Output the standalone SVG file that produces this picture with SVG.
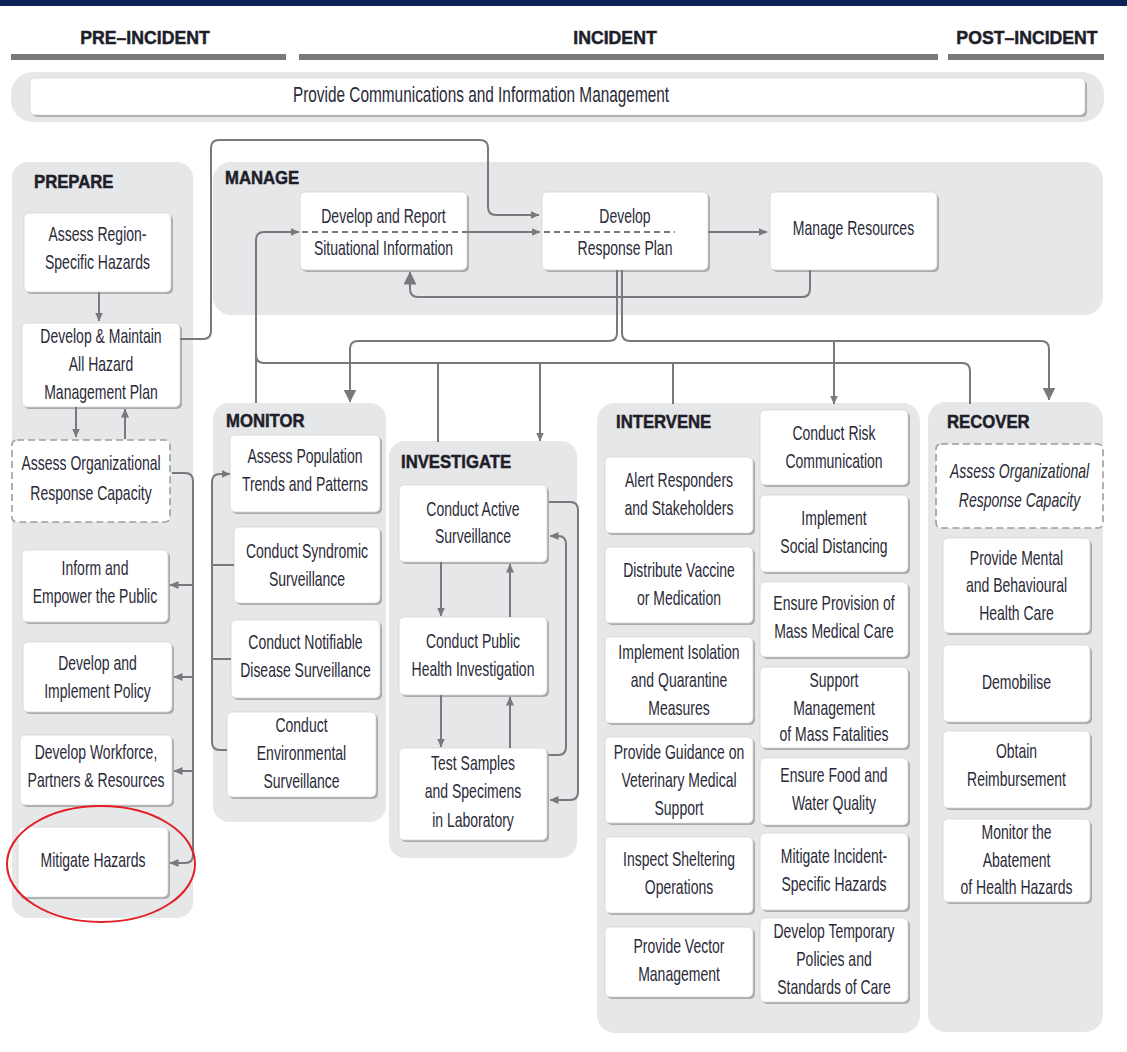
<svg xmlns="http://www.w3.org/2000/svg" width="1127" height="1052" viewBox="0 0 1127 1052">
<style>
.panel{fill:#e6e7e8}
.sh{fill:#a9aaac}
.box{fill:#ffffff;stroke:#d3d4d5;stroke-width:0.8}
.dbox{fill:#ffffff;stroke:#9c9d9f;stroke-width:1.6;stroke-dasharray:7 4}
.t{font-family:"Liberation Sans",Arial,sans-serif;font-size:20px;fill:#2a2a38;text-anchor:middle}
.it{font-style:italic}
.ttl{font-family:"Liberation Sans",Arial,sans-serif;font-size:19px;font-weight:900;fill:#1e1e2a;stroke:#1e1e2a;stroke-width:0.5}
.hdr{font-family:"Liberation Sans",Arial,sans-serif;font-size:19px;font-weight:900;fill:#1e1e2a;stroke:#1e1e2a;stroke-width:0.5;text-anchor:middle}
.bar{fill:#78797c}
.c{fill:none;stroke:#78797c;stroke-width:2}
.cd{fill:none;stroke:#78797c;stroke-width:2;stroke-dasharray:6 4}
.a{marker-end:url(#arr)}
.al{marker-end:url(#arrL)}
</style>
<defs>
<marker id="arr" markerWidth="9" markerHeight="8" refX="8.5" refY="4" orient="auto" markerUnits="userSpaceOnUse">
<path d="M0,0 L9,4 L0,8 z" fill="#78797c"/>
</marker>
<marker id="arrL" markerWidth="13" markerHeight="13" refX="12.5" refY="6.5" orient="auto" markerUnits="userSpaceOnUse">
<path d="M0,0 L13,6.5 L0,13 z" fill="#78797c"/>
</marker>
</defs>

<rect x="0" y="0" width="1127" height="6" fill="#0e2257"/>

<g id="phases">
<rect class="bar" x="11" y="54" width="275" height="6"/>
<rect class="bar" x="299" y="54" width="639" height="6"/>
<rect class="bar" x="948" y="54" width="156" height="6"/>
<text class="hdr" x="145" y="44" transform="matrix(0.93 0 0 1 10.15 0)">PRE–INCIDENT</text>
<text class="hdr" x="615" y="44" transform="matrix(0.93 0 0 1 43.05 0)">INCIDENT</text>
<text class="hdr" x="1027" y="44" transform="matrix(0.93 0 0 1 71.89 0)">POST–INCIDENT</text>
</g>

<g id="comm">
<rect class="panel" x="11" y="72" width="1093" height="50" rx="22"/>
<rect class="sh" x="32" y="80" width="1055" height="37" rx="5"/>
<rect class="box" x="30" y="78" width="1055" height="37" rx="5"/>
<text class="t" style="font-size:22px" x="481" y="102" transform="matrix(0.7 0 0 1 144.3 0)">Provide Communications and Information Management</text>
</g>

<g id="panels">
<rect class="panel" x="12" y="162" width="181" height="756" rx="16"/>
<rect class="panel" x="213" y="162" width="890" height="153" rx="18"/>
<rect class="panel" x="213" y="403" width="173" height="419" rx="16"/>
<rect class="panel" x="389" y="441" width="188" height="417" rx="16"/>
<rect class="panel" x="597" y="403" width="323" height="630" rx="18"/>
<rect class="panel" x="928" y="402" width="175" height="630" rx="18"/>
<text class="ttl" x="34" y="188" transform="matrix(0.88 0 0 1 4.08 0)">PREPARE</text>
<text class="ttl" x="225" y="184" transform="matrix(0.88 0 0 1 27 0)">MANAGE</text>
<text class="ttl" x="226" y="427" transform="matrix(0.88 0 0 1 27.12 0)">MONITOR</text>
<text class="ttl" x="401" y="468" transform="matrix(0.88 0 0 1 48.12 0)">INVESTIGATE</text>
<text class="ttl" x="616" y="428" transform="matrix(0.88 0 0 1 73.92 0)">INTERVENE</text>
<text class="ttl" x="947" y="428" transform="matrix(0.88 0 0 1 113.64 0)">RECOVER</text>
</g>

<g id="assess-region">
<rect class="sh" x="26" y="215" width="147" height="79" rx="5"/>
<rect class="box" x="24" y="213" width="147" height="79" rx="5"/>
<text class="t" transform="matrix(0.7 0 0 1 29.25 0)"><tspan x="97.5" y="241">Assess Region-</tspan><tspan x="97.5" y="269">Specific Hazards</tspan></text>
</g>
<g id="develop-maintain">
<rect class="sh" x="24" y="325" width="158" height="84" rx="5"/>
<rect class="box" x="22" y="323" width="158" height="84" rx="5"/>
<text class="t" transform="matrix(0.7 0 0 1 30.3 0)"><tspan x="101" y="343">Develop &amp; Maintain</tspan><tspan x="101" y="371">All Hazard</tspan><tspan x="101" y="399">Management Plan</tspan></text>
</g>
<g id="assess-org-prepare">
<rect class="dbox" x="12" y="440" width="158" height="82" rx="5"/>
<text class="t" transform="matrix(0.7 0 0 1 27.3 0)"><tspan x="91" y="470">Assess Organizational</tspan><tspan x="91" y="500">Response Capacity</tspan></text>
</g>
<g id="inform-public">
<rect class="sh" x="24" y="552" width="146" height="72" rx="5"/>
<rect class="box" x="22" y="550" width="146" height="72" rx="5"/>
<text class="t" transform="matrix(0.7 0 0 1 28.5 0)"><tspan x="95" y="575">Inform and</tspan><tspan x="95" y="603">Empower the Public</tspan></text>
</g>
<g id="policy">
<rect class="sh" x="25" y="644" width="149" height="70" rx="5"/>
<rect class="box" x="23" y="642" width="149" height="70" rx="5"/>
<text class="t" transform="matrix(0.7 0 0 1 29.25 0)"><tspan x="97.5" y="670">Develop and</tspan><tspan x="97.5" y="698">Implement Policy</tspan></text>
</g>
<g id="workforce">
<rect class="sh" x="22" y="737" width="152" height="70" rx="5"/>
<rect class="box" x="20" y="735" width="152" height="70" rx="5"/>
<text class="t" transform="matrix(0.7 0 0 1 28.8 0)"><tspan x="96" y="759">Develop Workforce,</tspan><tspan x="96" y="787">Partners &amp; Resources</tspan></text>
</g>
<g id="mitigate-hazards">
<rect class="sh" x="20" y="829" width="150" height="70" rx="5"/>
<rect class="box" x="18" y="827" width="150" height="70" rx="5"/>
<text class="t" x="93" y="867" transform="matrix(0.7 0 0 1 27.9 0)">Mitigate Hazards</text>
</g>

<g id="report-situational">
<rect class="sh" x="302" y="194" width="167" height="78" rx="5"/>
<rect class="box" x="300" y="192" width="167" height="78" rx="5"/>
<text class="t" transform="matrix(0.7 0 0 1 115.05 0)"><tspan x="383.5" y="223">Develop and Report</tspan><tspan x="383.5" y="255">Situational Information</tspan></text>
</g>
<g id="response-plan">
<rect class="sh" x="544" y="194" width="166" height="78" rx="5"/>
<rect class="box" x="542" y="192" width="166" height="78" rx="5"/>
<text class="t" transform="matrix(0.7 0 0 1 187.5 0)"><tspan x="625" y="223">Develop</tspan><tspan x="625" y="255">Response Plan</tspan></text>
</g>
<g id="manage-resources">
<rect class="sh" x="772" y="194" width="167" height="78" rx="5"/>
<rect class="box" x="770" y="192" width="167" height="78" rx="5"/>
<text class="t" x="853.5" y="235" transform="matrix(0.7 0 0 1 256.05 0)">Manage Resources</text>
</g>

<g id="population-trends">
<rect class="sh" x="232" y="437" width="150" height="77" rx="5"/>
<rect class="box" x="230" y="435" width="150" height="77" rx="5"/>
<text class="t" transform="matrix(0.7 0 0 1 91.5 0)"><tspan x="305" y="463">Assess Population</tspan><tspan x="305" y="491">Trends and Patterns</tspan></text>
</g>
<g id="syndromic">
<rect class="sh" x="236" y="529" width="146" height="76" rx="5"/>
<rect class="box" x="234" y="527" width="146" height="76" rx="5"/>
<text class="t" transform="matrix(0.7 0 0 1 92.1 0)"><tspan x="307" y="558">Conduct Syndromic</tspan><tspan x="307" y="586">Surveillance</tspan></text>
</g>
<g id="notifiable">
<rect class="sh" x="233" y="622" width="149" height="78" rx="5"/>
<rect class="box" x="231" y="620" width="149" height="78" rx="5"/>
<text class="t" transform="matrix(0.7 0 0 1 91.65 0)"><tspan x="305.5" y="649">Conduct Notifiable</tspan><tspan x="305.5" y="677">Disease Surveillance</tspan></text>
</g>
<g id="environmental">
<rect class="sh" x="229" y="714" width="149" height="85" rx="5"/>
<rect class="box" x="227" y="712" width="149" height="85" rx="5"/>
<text class="t" transform="matrix(0.7 0 0 1 90.45 0)"><tspan x="301.5" y="732">Conduct</tspan><tspan x="301.5" y="760">Environmental</tspan><tspan x="301.5" y="788">Surveillance</tspan></text>
</g>

<g id="active-surveillance">
<rect class="sh" x="401" y="487" width="148" height="77" rx="5"/>
<rect class="box" x="399" y="485" width="148" height="77" rx="5"/>
<text class="t" transform="matrix(0.7 0 0 1 141.9 0)"><tspan x="473" y="516">Conduct Active</tspan><tspan x="473" y="543">Surveillance</tspan></text>
</g>
<g id="public-health-investigation">
<rect class="sh" x="401" y="619" width="148" height="78" rx="5"/>
<rect class="box" x="399" y="617" width="148" height="78" rx="5"/>
<text class="t" transform="matrix(0.7 0 0 1 141.9 0)"><tspan x="473" y="648">Conduct Public</tspan><tspan x="473" y="676">Health Investigation</tspan></text>
</g>
<g id="test-samples">
<rect class="sh" x="401" y="750" width="148" height="92" rx="5"/>
<rect class="box" x="399" y="748" width="148" height="92" rx="5"/>
<text class="t" transform="matrix(0.7 0 0 1 141.9 0)"><tspan x="473" y="770">Test Samples</tspan><tspan x="473" y="798">and Specimens</tspan><tspan x="473" y="827">in Laboratory</tspan></text>
</g>

<g id="alert-responders">
<rect class="sh" x="607" y="459" width="148" height="76" rx="5"/>
<rect class="box" x="605" y="457" width="148" height="76" rx="5"/>
<text class="t" transform="matrix(0.7 0 0 1 203.7 0)"><tspan x="679" y="487">Alert Responders</tspan><tspan x="679" y="515">and Stakeholders</tspan></text>
</g>
<g id="distribute-vaccine">
<rect class="sh" x="607" y="549" width="148" height="76" rx="5"/>
<rect class="box" x="605" y="547" width="148" height="76" rx="5"/>
<text class="t" transform="matrix(0.7 0 0 1 203.7 0)"><tspan x="679" y="577">Distribute Vaccine</tspan><tspan x="679" y="605">or Medication</tspan></text>
</g>
<g id="isolation-quarantine">
<rect class="sh" x="607" y="639" width="148" height="86" rx="5"/>
<rect class="box" x="605" y="637" width="148" height="86" rx="5"/>
<text class="t" transform="matrix(0.7 0 0 1 203.7 0)"><tspan x="679" y="659">Implement Isolation</tspan><tspan x="679" y="687">and Quarantine</tspan><tspan x="679" y="715">Measures</tspan></text>
</g>
<g id="veterinary">
<rect class="sh" x="607" y="739" width="148" height="86" rx="5"/>
<rect class="box" x="605" y="737" width="148" height="86" rx="5"/>
<text class="t" transform="matrix(0.7 0 0 1 203.7 0)"><tspan x="679" y="759">Provide Guidance on</tspan><tspan x="679" y="787">Veterinary Medical</tspan><tspan x="679" y="815">Support</tspan></text>
</g>
<g id="sheltering">
<rect class="sh" x="607" y="839" width="148" height="76" rx="5"/>
<rect class="box" x="605" y="837" width="148" height="76" rx="5"/>
<text class="t" transform="matrix(0.7 0 0 1 203.7 0)"><tspan x="679" y="866">Inspect Sheltering</tspan><tspan x="679" y="894">Operations</tspan></text>
</g>
<g id="vector">
<rect class="sh" x="607" y="929" width="148" height="70" rx="5"/>
<rect class="box" x="605" y="927" width="148" height="70" rx="5"/>
<text class="t" transform="matrix(0.7 0 0 1 203.7 0)"><tspan x="679" y="953">Provide Vector</tspan><tspan x="679" y="981">Management</tspan></text>
</g>

<g id="risk-communication">
<rect class="sh" x="762" y="412" width="148" height="75" rx="5"/>
<rect class="box" x="760" y="410" width="148" height="75" rx="5"/>
<text class="t" transform="matrix(0.7 0 0 1 250.2 0)"><tspan x="834" y="440">Conduct Risk</tspan><tspan x="834" y="468">Communication</tspan></text>
</g>
<g id="social-distancing">
<rect class="sh" x="762" y="497" width="148" height="77" rx="5"/>
<rect class="box" x="760" y="495" width="148" height="77" rx="5"/>
<text class="t" transform="matrix(0.7 0 0 1 250.2 0)"><tspan x="834" y="525">Implement</tspan><tspan x="834" y="553">Social Distancing</tspan></text>
</g>
<g id="mass-medical-care">
<rect class="sh" x="762" y="584" width="148" height="75" rx="5"/>
<rect class="box" x="760" y="582" width="148" height="75" rx="5"/>
<text class="t" transform="matrix(0.7 0 0 1 250.2 0)"><tspan x="834" y="610">Ensure Provision of</tspan><tspan x="834" y="638">Mass Medical Care</tspan></text>
</g>
<g id="mass-fatalities">
<rect class="sh" x="762" y="669" width="148" height="81" rx="5"/>
<rect class="box" x="760" y="667" width="148" height="81" rx="5"/>
<text class="t" transform="matrix(0.7 0 0 1 250.2 0)"><tspan x="834" y="687">Support</tspan><tspan x="834" y="715">Management</tspan><tspan x="834" y="741">of Mass Fatalities</tspan></text>
</g>
<g id="food-water">
<rect class="sh" x="762" y="760" width="148" height="67" rx="5"/>
<rect class="box" x="760" y="758" width="148" height="67" rx="5"/>
<text class="t" transform="matrix(0.7 0 0 1 250.2 0)"><tspan x="834" y="782">Ensure Food and</tspan><tspan x="834" y="810">Water Quality</tspan></text>
</g>
<g id="incident-hazards">
<rect class="sh" x="762" y="835" width="148" height="77" rx="5"/>
<rect class="box" x="760" y="833" width="148" height="77" rx="5"/>
<text class="t" transform="matrix(0.7 0 0 1 250.2 0)"><tspan x="834" y="863">Mitigate Incident-</tspan><tspan x="834" y="891">Specific Hazards</tspan></text>
</g>
<g id="temporary-policies">
<rect class="sh" x="762" y="920" width="148" height="84" rx="5"/>
<rect class="box" x="760" y="918" width="148" height="84" rx="5"/>
<text class="t" transform="matrix(0.7 0 0 1 250.2 0)"><tspan x="834" y="938">Develop Temporary</tspan><tspan x="834" y="966">Policies and</tspan><tspan x="834" y="994">Standards of Care</tspan></text>
</g>

<g id="assess-org-recover">
<rect class="dbox" x="936" y="444" width="167" height="84" rx="5"/>
<text class="t it" transform="matrix(0.7 0 0 1 305.85 0)"><tspan x="1019.5" y="478">Assess Organizational</tspan><tspan x="1019.5" y="507">Response Capacity</tspan></text>
</g>
<g id="mental-health">
<rect class="sh" x="945" y="540" width="147" height="95" rx="5"/>
<rect class="box" x="943" y="538" width="147" height="95" rx="5"/>
<text class="t" transform="matrix(0.7 0 0 1 304.95 0)"><tspan x="1016.5" y="565">Provide Mental</tspan><tspan x="1016.5" y="592">and Behavioural</tspan><tspan x="1016.5" y="620">Health Care</tspan></text>
</g>
<g id="demobilise">
<rect class="sh" x="945" y="647" width="147" height="77" rx="5"/>
<rect class="box" x="943" y="645" width="147" height="77" rx="5"/>
<text class="t" x="1016.5" y="689" transform="matrix(0.7 0 0 1 304.95 0)">Demobilise</text>
</g>
<g id="reimbursement">
<rect class="sh" x="945" y="733" width="147" height="77" rx="5"/>
<rect class="box" x="943" y="731" width="147" height="77" rx="5"/>
<text class="t" transform="matrix(0.7 0 0 1 304.95 0)"><tspan x="1016.5" y="758">Obtain</tspan><tspan x="1016.5" y="786">Reimbursement</tspan></text>
</g>
<g id="abatement">
<rect class="sh" x="945" y="821" width="147" height="83" rx="5"/>
<rect class="box" x="943" y="819" width="147" height="83" rx="5"/>
<text class="t" transform="matrix(0.7 0 0 1 304.95 0)"><tspan x="1016.5" y="839">Monitor the</tspan><tspan x="1016.5" y="867">Abatement</tspan><tspan x="1016.5" y="894">of Health Hazards</tspan></text>
</g>

<g id="connectors">
<path class="c a" d="M99 292 V321"/>
<path class="c a" d="M76 407 V437"/>
<path class="c a" d="M125 439 V409"/>
<path class="c a" d="M180 339 H203 Q211 339 211 331 V148 Q211 140 219 140 H480 Q488 140 488 148 V207 Q488 215 496 215 H539"/>
<path class="c a" d="M256 403 V240 Q256 232 264 232 H299"/>
<path class="cd" d="M302 232 H467"/>
<path class="c a" d="M467 232 H540"/>
<path class="cd" d="M544 232 H675"/>
<path class="c a" d="M708 232 H767"/>
<path class="c al" d="M810 270 V289 Q810 297 802 297 H418 Q410 297 410 289 V272"/>
<path class="c al" d="M617 270 V333 Q617 341 609 341 H358 Q350 341 350 349 V402"/>
<path class="c al" d="M622 270 V333 Q622 341 630 341 H1041 Q1049 341 1049 349 V400"/>
<path class="c a" d="M834 341 V404"/>
<path class="c" d="M970 404 V371 Q970 363 962 363 H264 Q256 363 256 355"/>
<path class="c" d="M438 363 V442"/>
<path class="c a" d="M540 363 V441"/>
<path class="c" d="M673 363 V404"/>
<path class="c a" d="M172 473 H185 Q193 473 193 481 V855 Q193 863 185 863 H170"/>
<path class="c a" d="M193 585 H170"/>
<path class="c a" d="M193 677 H174"/>
<path class="c a" d="M193 771 H174"/>
<path class="c a" d="M227 750 H220 Q212 750 212 742 V482 Q212 474 220 474 H230"/>
<path class="c" d="M234 565 H212"/>
<path class="c" d="M231 659 H212"/>
<path class="c a" d="M441 562 V616"/>
<path class="c a" d="M510 617 V564"/>
<path class="c a" d="M441 695 V747"/>
<path class="c a" d="M510 748 V697"/>
<path class="c a" d="M549 502 H570 Q578 502 578 510 V792 Q578 800 570 800 H550"/>
<path class="c a" d="M549 755 H558 Q566 755 566 747 V544 Q566 536 558 536 H550"/>
</g>

<ellipse id="highlight" cx="101" cy="864" rx="94" ry="58" fill="none" stroke="#e31e24" stroke-width="2"/>
</svg>
